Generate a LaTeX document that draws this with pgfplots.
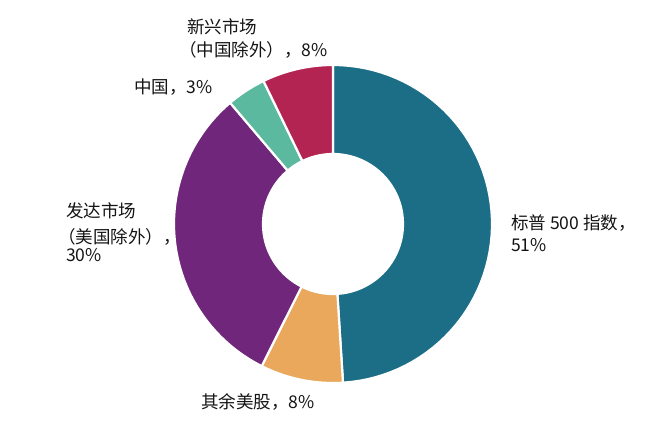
\documentclass[border=0pt]{standalone}
\usepackage{pgfplots}
\pgfplotsset{compat=1.18}
\usepackage{fontspec}
\setmainfont{Noto Sans CJK SC}
\definecolor{cteal}{RGB}{27,110,134}
\definecolor{corange}{RGB}{234,168,92}
\definecolor{cpurple}{RGB}{112,38,123}
\definecolor{cgreen}{RGB}{91,185,160}
\definecolor{ccrimson}{RGB}{180,36,82}
\definecolor{ctext}{RGB}{20,20,20}
\tikzset{lbl/.style={font=\fontsize{17.6}{20}\selectfont, text=ctext, inner sep=0pt, anchor=west}}
% slice: start share, end share (percent of the ring), colour
\newcommand{\donutslice}[3]{%
  \addplot[fill=#3, draw=white, line width=2.2pt, line join=round,
    domain=0:120, samples=121, variable=\t]
  ({333 + ((\t<60.5) ? 159 : 70)*cos(((\t<60.5) ? (90-3.6*(#1+(#2-#1)*\t/60)) : (90-3.6*(#2+(#1-#2)*(\t-61)/59))))},
   {200 + ((\t<60.5) ? 159 : 70)*sin(((\t<60.5) ? (90-3.6*(#1+(#2-#1)*\t/60)) : (90-3.6*(#2+(#1-#2)*(\t-61)/59))))}) -- cycle;
}
\begin{document}
\begin{tikzpicture}
\begin{axis}[
  width=661bp, height=424bp, scale only axis,
  xmin=0, xmax=661, ymin=0, ymax=424,
  hide axis, clip=false,
]
\path (axis cs:0,0) rectangle (axis cs:661,424);
% cumulative shares as drawn: 49, 8.4, 31.4, 4, 7.2
\donutslice{0}{49}{cteal}
\donutslice{49}{57.4}{corange}
\donutslice{57.4}{88.8}{cpurple}
\donutslice{88.8}{92.8}{cgreen}
\donutslice{92.8}{100}{ccrimson}
\node[lbl] at (axis cs:187,397) {新兴市场};
\node[lbl] at (axis cs:179,374) {（中国除外），8\%};
\node[lbl] at (axis cs:134,337) {中国，3\%};
\node[lbl] at (axis cs:66,213) {发达市场};
\node[lbl] at (axis cs:58,187) {（美国除外），};
\node[lbl] at (axis cs:66,169) {30\%};
\node[lbl] at (axis cs:511,201) {标普 500 指数，};
\node[lbl] at (axis cs:511,179) {51\%};
\node[lbl] at (axis cs:201,22) {其余美股，8\%};
\end{axis}
\end{tikzpicture}
\end{document}
